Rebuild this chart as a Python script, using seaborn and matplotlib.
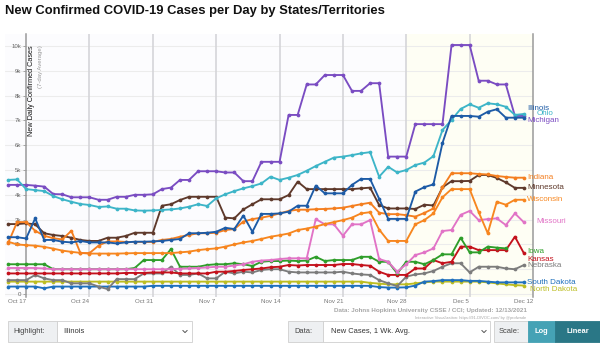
import numpy as np
import pandas as pd
import matplotlib
matplotlib.use("Agg")
import matplotlib.pyplot as plt
import matplotlib.dates as mdates
from matplotlib.patches import Rectangle
from matplotlib.lines import Line2D
import seaborn as sns

sns.set_theme(style="white")
plt.rcParams['font.family'] = ['Liberation Sans', 'DejaVu Sans']

# ---------------- data (thousands of new cases/day, 7-day avg) ----------------
dates = pd.date_range("2021-10-16", "2021-12-12", freq="D")   # 58 days

michigan = [4.4, 4.4, 4.4, 4.37, 4.33, 4.03, 4.02, 3.9, 3.9, 3.9, 3.8, 3.8, 3.92, 3.92, 4.0, 4.0,
            4.02, 4.23, 4.29, 4.6, 4.6, 4.95, 4.95, 4.95, 4.9, 4.9, 4.55, 4.55, 5.33, 5.33, 5.33,
            7.22, 7.22, 8.45, 8.45, 8.83, 8.83, 8.83, 8.19, 8.19, 8.5, 8.5, 5.54, 5.54, 5.54,
            6.85, 6.85, 6.85, 6.85, 10.04, 10.04, 10.04, 8.6, 8.6, 8.45, 8.45, 7.18, 7.18]
ohio = [4.6, 4.62, 4.23, 4.19, 4.15, 3.95, 3.82, 3.72, 3.63, 3.59, 3.51, 3.53, 3.44, 3.44, 3.37, 3.36,
        3.37, 3.39, 3.41, 3.45, 3.52, 3.62, 3.55, 3.86, 4.02, 4.15, 4.26, 4.35, 4.46, 4.73, 4.6,
        4.69, 4.8, 4.97, 5.16, 5.33, 5.5, 5.54, 5.6, 5.67, 5.72, 4.73, 5.13, 4.9, 5.0, 5.2, 5.3,
        5.56, 6.61, 7.02, 7.46, 7.65, 7.51, 7.69, 7.65, 7.55, 7.22, 7.26]
illinois = [2.29, 2.29, 2.24, 3.05, 2.18, 2.18, 2.11, 2.08, 2.14, 2.08, 2.08, 2.08, 2.04, 2.08, 2.11,
            2.11, 2.12, 2.14, 2.18, 2.22, 2.45, 2.45, 2.47, 2.51, 2.67, 2.62, 3.16, 2.51, 3.23, 3.23,
            3.25, 3.32, 3.56, 3.56, 4.37, 4.06, 4.06, 4.06, 4.4, 4.64, 4.64, 3.84, 3.03, 3.03, 3.03,
            4.13, 4.31, 4.42, 6.09, 7.18, 7.18, 7.18, 7.15, 7.35, 7.45, 7.11, 7.11, 7.11]
indiana = [2.04, 2.9, 2.9, 2.55, 2.35, 2.25, 2.2, 2.55, 1.65, 1.65, 1.95, 2.12, 2.12, 2.1, 2.1, 2.1,
           2.1, 2.18, 2.22, 2.31, 2.38, 2.45, 2.45, 2.47, 2.58, 2.62, 2.92, 3.02, 3.08, 3.15, 3.25,
           3.35, 3.4, 3.4, 3.42, 3.43, 3.45, 3.48, 3.55, 3.62, 3.68, 3.28, 3.22, 3.22, 3.18, 3.12,
           3.27, 3.45, 4.3, 4.87, 4.87, 4.87, 4.84, 4.82, 4.76, 4.72, 4.69, 4.69]
minnesota = [2.82, 2.82, 2.85, 2.81, 2.45, 2.38, 2.34, 2.27, 2.18, 2.14, 2.14, 2.27, 2.27, 2.34, 2.47,
             2.47, 2.47, 3.56, 3.62, 3.79, 3.92, 3.92, 3.92, 3.92, 3.08, 3.05, 3.41, 3.62, 3.82, 3.82,
             3.82, 3.99, 4.53, 4.23, 4.23, 4.23, 4.23, 4.23, 4.23, 4.26, 4.29, 3.59, 3.45, 3.45, 3.45,
             3.43, 3.6, 3.57, 4.3, 4.55, 4.55, 4.56, 4.8, 4.8, 4.68, 4.5, 4.28, 4.28]
wisconsin = [2.11, 2.0, 1.97, 1.95, 1.9, 1.83, 1.75, 1.7, 1.66, 1.63, 1.63, 1.63, 1.63, 1.64, 1.65,
             1.65, 1.65, 1.65, 1.65, 1.68, 1.71, 1.77, 1.81, 1.84, 1.91, 2.0, 2.08, 2.14, 2.22, 2.31,
             2.37, 2.44, 2.58, 2.64, 2.72, 2.82, 2.9, 2.98, 3.08, 3.25, 3.3, 2.6, 2.14, 2.14, 2.14,
             2.81, 2.98, 3.25, 3.9, 4.23, 4.23, 4.23, 3.3, 2.45, 3.72, 3.6, 3.8, 3.8]
missouri = [1.05, 1.05, 1.05, 1.05, 1.03, 1.0, 1.0, 1.0, 1.0, 1.0, 1.0, 1.0, 1.0, 1.0, 1.0, 1.0,
            1.0, 1.0, 1.0, 1.02, 1.03, 1.05, 1.07, 1.1, 1.1, 1.15, 1.2, 1.3, 1.35, 1.37, 1.41,
            1.44, 1.44, 1.44, 3.02, 2.81, 2.81, 2.35, 2.81, 2.81, 2.98, 1.41, 1.3, 0.9, 1.2, 1.57,
            1.68, 1.84, 2.54, 2.58, 3.19, 3.35, 2.98, 3.02, 3.05, 2.78, 3.25, 2.89]
iowa = [1.2, 1.2, 1.2, 1.2, 1.2, 1.0, 1.0, 1.0, 1.0, 1.0, 1.0, 1.0, 1.0, 1.0, 1.05, 1.37,
        1.37, 1.37, 1.81, 1.1, 1.1, 1.1, 1.17, 1.2, 1.2, 1.24, 1.2, 1.13, 1.3, 1.33, 1.33,
        1.35, 1.33, 1.35, 1.5, 1.33, 1.37, 1.37, 1.37, 1.5, 1.5, 1.3, 1.3, 0.83, 1.3, 1.3,
        1.2, 1.37, 1.6, 1.6, 2.27, 1.68, 1.68, 1.91, 1.87, 1.84, None, None]
kansas = [0.83, 0.83, 0.83, 0.83, 0.83, 0.83, 0.83, 0.83, 0.83, 0.83, 0.83, 0.83, 0.83, 0.85, 0.85,
          0.85, 0.87, 0.87, 0.87, 0.83, 0.83, 0.83, 0.83, 0.9, 0.9, 0.93, 0.97, 1.0, 1.03, 1.08,
          1.1, 1.17, 1.15, 1.17, 1.17, 1.17, 1.17, 1.21, 1.21, 1.17, 1.14, 0.9, 0.77, 0.77, 0.77,
          1.03, 1.03, 1.37, 1.24, 1.3, 1.91, 1.91, 1.77, 1.77, 1.77, 1.77, 2.31, 1.64]
nebraska = [0.56, 0.56, 0.56, 0.77, 0.63, 0.56, 0.56, 0.43, 0.43, 0.43, 0.3, 0.2, 0.6, 0.6, 0.6,
            0.83, 0.83, 0.83, 1.1, 0.77, 0.77, 0.83, 0.63, 0.63, 0.9, 0.83, 0.9, 0.87, 0.97, 1.0,
            1.0, 0.9, 0.87, 0.87, 0.87, 0.87, 0.87, 0.9, 0.83, 0.79, 0.77, 0.56, 0.43, 0.32, 0.7,
            0.79, 0.83, 0.93, 1.1, 1.24, 1.24, 0.87, 1.1, 1.1, 1.1, 1.03, 1.0, 1.17]
south_dakota = [0.3, 0.3, 0.3, 0.3, 0.23, 0.3, 0.3, 0.3, 0.3, 0.3, 0.3, 0.3, 0.3, 0.3, 0.3, 0.3,
                0.33, 0.33, 0.33, 0.33, 0.33, 0.33, 0.33, 0.33, 0.33, 0.33, 0.33, 0.33, 0.33, 0.33,
                0.33, 0.33, 0.33, 0.33, 0.33, 0.33, 0.33, 0.33, 0.33, 0.33, 0.33, 0.28, 0.26, 0.26,
                0.27, 0.34, 0.5, 0.52, 0.56, 0.56, 0.56, 0.53, 0.53, 0.5, 0.47, 0.47, 0.47, 0.47]
north_dakota = [0.5, 0.5, 0.5, 0.5, 0.5, 0.5, 0.5, 0.5, 0.5, 0.5, 0.5, 0.5, 0.5, 0.5, 0.5, 0.5,
                0.5, 0.5, 0.5, 0.5, 0.5, 0.5, 0.5, 0.5, 0.5, 0.5, 0.5, 0.5, 0.5, 0.5, 0.5, 0.5,
                0.5, 0.5, 0.5, 0.5, 0.5, 0.5, 0.5, 0.5, 0.45, 0.42, 0.39, 0.39, 0.39, 0.43, 0.47,
                0.5, 0.5, 0.5, 0.5, 0.5, 0.5, 0.47, 0.43, 0.39, 0.36, 0.34]

series = {
    "North Dakota": north_dakota, "South Dakota": south_dakota, "Nebraska": nebraska,
    "Kansas": kansas, "Iowa": iowa, "Missouri": missouri, "Wisconsin": wisconsin,
    "Minnesota": minnesota, "Indiana": indiana, "Michigan": michigan, "Ohio": ohio,
    "Illinois": illinois,
}
colors = {
    "Illinois": "#1d5ba6", "Ohio": "#3db5c8", "Michigan": "#7a4cc2", "Indiana": "#f47e1f",
    "Minnesota": "#5e392b", "Wisconsin": "#f7861f", "Missouri": "#e173c6", "Iowa": "#2e9e2a",
    "Kansas": "#c4111c", "Nebraska": "#7c7c7c", "South Dakota": "#1f70bd", "North Dakota": "#bcbd22",
}
# label placement tweaks (day shift, value shift) so names do not collide
label_shift = {
    "Illinois": (0.35, 0.38), "Ohio": (1.35, 0.0), "Michigan": (0.35, -0.18),
    "Indiana": (0.35, 0.01), "Minnesota": (0.35, 0.01), "Wisconsin": (0.35, 0.02),
    "Missouri": (1.35, 0.05), "Iowa": (0.35, -0.12), "Kansas": (0.35, -0.26),
    "Nebraska": (0.35, -0.02), "South Dakota": (0.35, 0.0), "North Dakota": (0.7, -0.14),
}
tick_dates = pd.date_range("2021-10-17", "2021-12-12", freq="7D")
tick_labels = ["Oct 17", "Oct 24", "Oct 31", "Nov 7", "Nov 14", "Nov 21", "Nov 28", "Dec 5", "Dec 12"]
grid_dates = tick_dates + pd.Timedelta(days=1)
y_ticks = [0, 1, 2, 3, 4, 5, 6, 7, 8, 9, 10]
y_labels = ["0", "1k", "2k", "3k", "4k", "5k", "6k", "7k", "8k", "9k", "10k"]

for k, v in series.items():
    assert len(v) == len(dates), (k, len(v))

df = pd.concat([pd.DataFrame({"date": dates, "cases": pd.to_numeric(pd.Series(v, dtype="float")),
                              "state": k}) for k, v in series.items()], ignore_index=True)
df = df.dropna()

# ---------------- figure ----------------
W, H = 600, 345
fig = plt.figure(figsize=(W / 100, H / 100), dpi=100)
fig.patch.set_facecolor("white")
fx = lambda x: x / W
fy = lambda y: 1 - y / H

L, R, T, B = 5, 533, 33.6, 297
ax = fig.add_axes([fx(L), fy(B), (R - L) / W, (B - T) / H])
ax.set_facecolor("#fcfcfe")

x0 = dates[0] + pd.Timedelta(hours=-8)
x1 = pd.Timestamp("2021-12-13")
ax.axvspan(pd.Timestamp("2021-11-29"), x1, color="#fefef4", zorder=0, lw=0)

for yv in y_ticks:
    ax.axhline(yv, color="#ececec", lw=0.8, zorder=0.5)
for gd in grid_dates[1:-1]:
    ax.axvline(gd, color="#d2d2d6", lw=1.1, zorder=0.6)

sns.lineplot(data=df, x="date", y="cases", hue="state", hue_order=list(series.keys()),
             palette=colors, marker="o", markersize=2.7, markeredgewidth=0, linewidth=1.35,
             legend=False, ax=ax, estimator=None, sort=False, zorder=3)

ax.set_xlim(x0, x1)
ax.set_ylim(-0.12, 10.5)

for s in ["top", "bottom"]:
    ax.spines[s].set_visible(False)
ax.spines["left"].set_position(("data", mdates.date2num(grid_dates[0])))
ax.spines["left"].set_color("#9a9a9a")
ax.spines["left"].set_linewidth(1.1)
ax.spines["right"].set_color("#9a9a9a")
ax.spines["right"].set_linewidth(1.1)

ax.set_yticks(y_ticks)
ax.set_yticklabels(y_labels)
ax.tick_params(axis="y", length=2.2, width=0.6, color="#999999", labelsize=4.4,
               labelcolor="#666666", pad=1.2, left=True)
ax.set_xticks(tick_dates)
ax.set_xticklabels(tick_labels)
ax.tick_params(axis="x", length=0, labelsize=4.4, labelcolor="#777777", pad=1.5)
ax.set_xlabel("")
ax.set_ylabel("")

# axis title inside plot
ax.text(0.05, 0.955, "New Daily Confirmed Cases", transform=ax.transAxes, rotation=90,
        ha="center", va="top", fontsize=5.2, color="#111111")
ax.text(0.068, 0.955, "(7-day Average)", transform=ax.transAxes, rotation=90,
        ha="center", va="top", fontsize=4.3, color="#999999")

# right-hand state labels
for name, vals in series.items():
    last_i = max(i for i, v in enumerate(vals) if v is not None)
    dx, dy = label_shift[name]
    ax.text(dates[-1] + pd.Timedelta(days=dx), vals[last_i] + dy, name, color=colors[name],
            fontsize=5.8, ha="left", va="center", clip_on=False, zorder=5)

# title
fig.text(fx(5), fy(11), "New Confirmed COVID-19 Cases per Day by States/Territories",
         fontsize=9.4, fontweight="bold", color="#111111", ha="left", va="center")

# credits
fig.text(fx(527), fy(310.5), "Data: Johns Hopkins University CSSE / CCI; Updated: 12/13/2021",
         fontsize=4.5, fontweight="bold", color="#a6a6a6", ha="right", va="center")
fig.text(fx(526), fy(317.5), "Interactive Visualization: https://91-DIVOC.com/ by @profwade",
         fontsize=2.9, color="#a6a6a6", ha="right", va="center")

# control bar
def box(x_a, x_b, y_a, y_b, fc, ec="#cfcfcf"):
    fig.patches.append(Rectangle((fx(x_a), fy(y_b)), (x_b - x_a) / W, (y_b - y_a) / H,
                                 transform=fig.transFigure, facecolor=fc, edgecolor=ec, lw=0.6))

def chevron(xc, yc):
    fig.lines.append(Line2D([fx(xc - 2.2), fx(xc), fx(xc + 2.2)], [fy(yc - 1.1), fy(yc + 1.1), fy(yc - 1.1)],
                            transform=fig.transFigure, color="#555555", lw=0.7))

yt, yb = 321, 342
yc = (yt + yb) / 2
box(8, 57, yt, yb, "#eef0f2")
box(57, 192, yt, yb, "white")
fig.text(fx(13), fy(yc), "Highlight:", fontsize=5.4, color="#444444", va="center")
fig.text(fx(63), fy(yc), "Illinois", fontsize=5.4, color="#333333", va="center")
chevron(185, yc)

box(288, 323, yt, yb, "#eef0f2")
box(323, 490, yt, yb, "white")
fig.text(fx(294), fy(yc), "Data:", fontsize=5.4, color="#444444", va="center")
fig.text(fx(331), fy(yc), "New Cases, 1 Wk. Avg.", fontsize=5.4, color="#333333", va="center")
chevron(484, yc)

box(494, 528, yt, yb, "#eef0f2")
box(528, 555, yt, yb, "#45a2b5", ec="#45a2b5")
box(555, 600, yt, yb, "#2a7786", ec="#2a7786")
fig.text(fx(499), fy(yc), "Scale:", fontsize=5.4, color="#444444", va="center")
fig.text(fx(541.5), fy(yc), "Log", fontsize=5.4, color="white", va="center", ha="center", fontweight="bold")
fig.text(fx(577.5), fy(yc), "Linear", fontsize=5.4, color="white", va="center", ha="center", fontweight="bold")

fig.savefig("out.png", dpi=100, facecolor="white")
